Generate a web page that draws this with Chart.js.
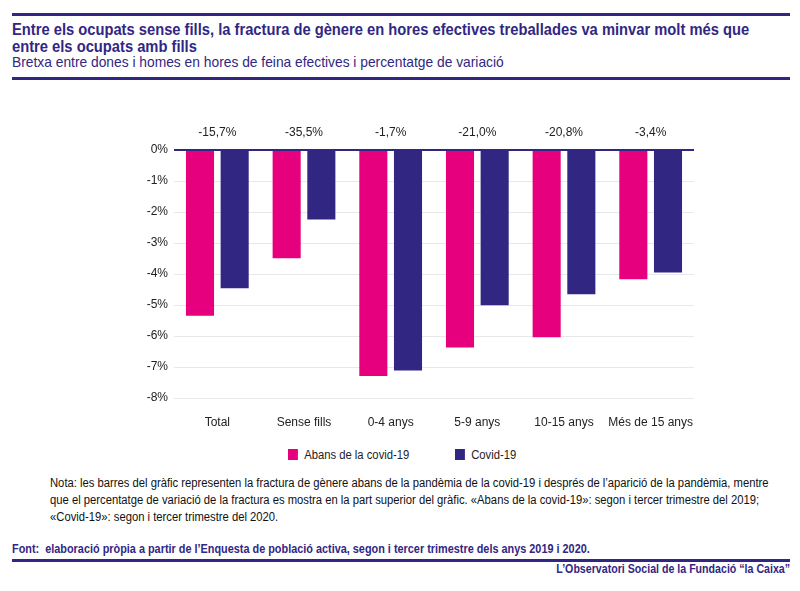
<!DOCTYPE html>
<html>
<head>
<meta charset="utf-8">
<script src="https://cdn.jsdelivr.net/npm/chart.js@4"></script>
<style>
  body { margin: 0; width: 800px; height: 591px; background: #fff; position: relative; font-family: "Liberation Sans", Arial, sans-serif; overflow: hidden; }
  .rule { position: absolute; left: 12px; width: 778px; height: 3px; background: #312783; }
  .narrow { transform-origin: left top; white-space: nowrap; }
  #title { position: absolute; left: 12px; top: 21px; color: #312783; font-weight: bold; font-size: 16px; line-height: 17px; transform: scaleX(0.92); }
  #subtitle { position: absolute; left: 12px; top: 53px; color: #312783; font-size: 15px; transform: scaleX(0.92); }
  #wrap { position: absolute; left: 0; top: 90px; width: 800px; height: 348px; }
  .leg { position: absolute; top: 448px; font-size: 12.5px; color: #222; line-height: 14px; transform: scaleX(0.9); transform-origin: left top; white-space: nowrap; }
  .leg i { display: inline-block; width: 11px; height: 11px; vertical-align: -1px; margin-right: 7px; }
  #note { position: absolute; left: 50px; top: 475px; font-size: 12.5px; line-height: 17px; color: #111; transform: scaleX(0.9); }
  #source { position: absolute; left: 12px; top: 542px; color: #312783; font-weight: bold; font-size: 12.5px; transform: scaleX(0.87); }
  #brand { position: absolute; right: 10px; top: 562px; color: #312783; font-weight: bold; font-size: 12.5px; transform: scaleX(0.85); transform-origin: right top; white-space: nowrap; }
</style>
</head>
<body>
<div class="rule" style="top:13px"></div>
<div id="title" class="narrow">Entre els ocupats sense fills, la fractura de gènere en hores efectives treballades va minvar molt més que<br>entre els ocupats amb fills</div>
<div id="subtitle" class="narrow">Bretxa entre dones i homes en hores de feina efectives i percentatge de variació</div>
<div class="rule" style="top:77px"></div>
<div id="wrap"><canvas id="chart"></canvas></div>
<div id="legend"></div>
<div id="note" class="narrow">Nota: les barres del gràfic representen la fractura de gènere abans de la pandèmia de la covid-19 i després de l’aparició de la pandèmia, mentre<br>que el percentatge de variació de la fractura es mostra en la part superior del gràfic. «Abans de la covid-19»: segon i tercer trimestre del 2019;<br>«Covid-19»: segon i tercer trimestre del 2020.</div>
<div id="source" class="narrow">Font:&nbsp; elaboració pròpia a partir de l’Enquesta de població activa, segon i tercer trimestre dels anys 2019 i 2020.</div>
<div class="rule" style="top:559px"></div>
<div id="brand">L’Observatori Social de la Fundació “la Caixa”</div>
<script>
var categories = ["Total", "Sense fills", "0-4 anys", "5-9 anys", "10-15 anys", "Més de 15 anys"];
var abans = [-5.35, -3.49, -7.29, -6.37, -6.04, -4.17];
var covid = [-4.46, -2.24, -7.11, -5.01, -4.65, -3.95];
var variacio = ["-15,7%", "-35,5%", "-1,7%", "-21,0%", "-20,8%", "-3,4%"];
var yTicks = [0, -1, -2, -3, -4, -5, -6, -7, -8];

var FONT = "'Liberation Sans', Arial, sans-serif";

var topLabels = {
    id: "topLabels",
    afterDraw: function(chart) {
        var ctx = chart.ctx, x = chart.scales.x, area = chart.chartArea;
        ctx.save();
        ctx.font = "12px " + FONT;
        ctx.fillStyle = "#222";
        ctx.textAlign = "center";
        ctx.textBaseline = "middle";
        for (var i = 0; i < variacio.length; i++) {
            ctx.fillText(variacio[i], x.getPixelForValue(i), area.top - 17);
        }
        ctx.restore();
    }
};

var chart = new Chart(document.getElementById("chart"), {
    type: "bar",
    data: {
        labels: categories,
        datasets: [
            { label: "Abans de la covid-19", data: abans, backgroundColor: "#E6007E" },
            { label: "Covid-19", data: covid, backgroundColor: "#312783" }
        ]
    },
    options: {
        responsive: true,
        maintainAspectRatio: false,
        animation: false,
        categoryPercentage: 0.8,
        barPercentage: 0.81,
        layout: { padding: { left: 124, right: 106, top: 60, bottom: 0 } },
        plugins: {
            legend: { display: false },
            tooltip: { enabled: false }
        },
        scales: {
            x: {
                afterFit: function(s) { s.height = 40; },
                grid: { display: false },
                border: { display: false },
                ticks: { color: "#222", padding: 9, maxRotation: 0, autoSkip: false, font: { family: FONT, size: 12 } }
            },
            y: {
                min: -8,
                max: 0,
                afterFit: function(s) { s.width = 50; },
                afterBuildTicks: function(s) { s.ticks = yTicks.map(function(v) { return { value: v }; }); },
                border: { display: false },
                grid: {
                    drawTicks: false,
                    color: function(c) { return c.tick.value === 0 ? "#312783" : "#e8e8e8"; },
                    lineWidth: function(c) { return c.tick.value === 0 ? 2 : 1; }
                },
                ticks: {
                    color: "#222",
                    padding: 6,
                    font: { family: FONT, size: 12 },
                    callback: function(v) { return v + "%"; }
                }
            }
        }
    },
    plugins: [topLabels]
});

// html legend built from the datasets
var legX = [288, 455];
var legend = document.getElementById("legend");
chart.data.datasets.forEach(function(ds, i) {
    var d = document.createElement("div");
    d.className = "leg";
    d.style.left = legX[i] + "px";
    d.innerHTML = '<i style="background:' + ds.backgroundColor + '"></i>' + ds.label;
    legend.appendChild(d);
});
</script>
</body>
</html>
